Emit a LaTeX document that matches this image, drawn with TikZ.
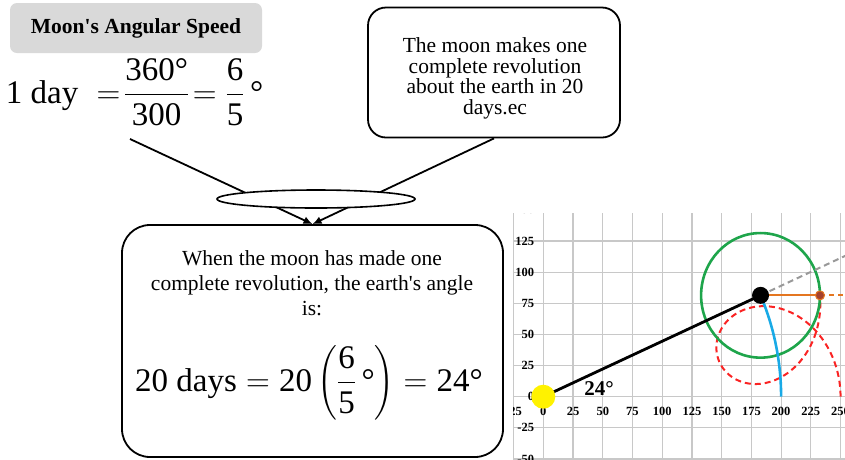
\RequirePackage{fix-cm}
\documentclass[tikz,border=0pt]{standalone}
\usepackage{amsmath}
\usepackage{fontspec}
\setmainfont{Liberation Serif}
\usepackage{tikz}
\usetikzlibrary{positioning,shapes.geometric,arrows.meta}

\definecolor{titlegray}{RGB}{217,217,217}
\definecolor{gridgray}{RGB}{200,200,200}
\definecolor{orbitgreen}{RGB}{30,165,75}
\definecolor{pathred}{RGB}{250,35,35}
\definecolor{arcblue}{RGB}{25,170,230}
\definecolor{rayorange}{RGB}{228,118,32}
\definecolor{moonbrown}{RGB}{165,65,45}

\begin{document}
\begin{tikzpicture}[x=1pt, y=-1pt, line width=1.8pt, >={Latex[length=9pt,width=8pt]},
  titlebox/.style={fill=titlegray, rounded corners=7pt, minimum width=252pt, minimum height=50pt,
    font=\fontsize{21.5}{24}\selectfont\bfseries},
  callout/.style={draw, rounded corners=#1},
  note/.style={align=center, inner sep=0pt, font=\fontsize{21.5}{#1}\selectfont},
  bigmath/.style={inner sep=0pt, font=\fontsize{33}{38}\selectfont},
  merge/.style={draw, fill=white, ellipse, minimum width=198pt, minimum height=18pt, line width=1.6pt},
  gridline/.style={draw=gridgray, line width=1.2pt},
  ticklabel/.style={inner sep=0pt, font=\fontsize{12.5}{14}\selectfont\bfseries},
  anglelabel/.style={inner sep=0pt, font=\fontsize{21}{24}\selectfont\bfseries},
  sun/.style={circle, fill=yellow, minimum size=24pt, inner sep=0pt},
  earthdot/.style={circle, fill=black, minimum size=17pt, inner sep=0pt},
  moondot/.style={circle, fill=moonbrown, draw=rayorange, line width=1pt, minimum size=9pt, inner sep=0pt}]

  \useasboundingbox (0,0) rectangle (845,459);

  % left: speed of the moon
  \node[titlebox] (title) at (136,28) {Moon\textquotesingle s Angular Speed};
  \node[bigmath, anchor=base west] (speed) at (5,103)
    {$\text{1 day}\;=\!\dfrac{\text{360°}}{\text{300}}\!=\dfrac{\text{6}}{\text{5}}\,\text{°}$};

  % callouts
  \node[callout=18pt, minimum width=252pt, minimum height=130pt] (fact) at (494,72.5) {};
  \node[note=20.7] (factnote) at (495,78.5)
    {The moon makes one\\complete revolution\\about the earth in 20\\days.ec};

  \node[callout=28pt, minimum width=381pt, minimum height=232pt] (result) at (312.5,341) {};
  \node[note=25] (resultnote) at (312,283)
    {When the moon has made one\\complete revolution, the earth\textquotesingle s angle\\is:};
  \node[bigmath, anchor=base] (resultmath) at (309,391)
    {$\text{20 days}=\text{20}\left(\dfrac{\text{6}}{\text{5}}\,\text{°}\right)=\text{24°}$};

  \coordinate (speedfoot) at (130,139);
  \draw[->] (speedfoot) -- (result.north);
  \draw[->] (fact.south) -- (result.north);
  \node[merge] (join) at (316,199) {};

  % right: orbit plot
  \begin{scope}
    \clip (513,213) rectangle (845,459);
    \begin{scope}[shift={(543.3,396.7)}, x=1.189pt, y=1.246pt]
      \foreach \gx in {-25,0,...,275}
        \draw[gridline] (\gx,-60) -- (\gx,160);
      \foreach \gy in {-50,-25,...,150}
        \draw[gridline] (-30,\gy) -- (280,\gy);
      \foreach \gy in {-50,-25,...,150}
        \node[ticklabel, anchor=east] (ylab\gy) at (-7,\gy) {\gy};
      \foreach \gx in {-25,0,...,250}
        \node[ticklabel] (xlab\gx) at (\gx,-11.5) {\gx};

      \coordinate (sunpos) at (0,0);
      \coordinate (earthpos) at ({200*cos(24)},{200*sin(24)});
      \coordinate (moonpos) at ({200*cos(24)+50},{200*sin(24)});
      \coordinate (rayend) at ({330*cos(24)},{330*sin(24)});
      \coordinate (moonray) at (285,{200*sin(24)});

      \draw[pathred, line width=2pt, dash pattern=on 6pt off 4pt]
        plot[domain=0:1, samples=150, smooth, variable=\t]
        ({200*cos(24*\t)+50*cos(360*\t)}, {200*sin(24*\t)+50*sin(360*\t)});
      \draw[orbitgreen, line width=2.6pt] (earthpos) circle[radius=50];
      \draw[arcblue, line width=2.6pt]
        plot[domain=0:24, samples=40, variable=\a] ({200*cos(\a)},{200*sin(\a)});
      \draw[gray!80, line width=2pt, dash pattern=on 6pt off 4pt] (earthpos) -- (rayend);
      \draw[rayorange, line width=2pt, dash pattern=on 5pt off 4pt] (moonpos) -- (moonray);
      \draw[rayorange, line width=2.2pt] (earthpos) -- (moonpos);
      \draw[line width=2.8pt] (sunpos) -- (earthpos);

      \node[sun] (sun) at (sunpos) {};
      \node[earthdot] (earth) at (earthpos) {};
      \node[moondot] (moon) at (moonpos) {};
      \node[anglelabel] (anglelab) at (47,6.7) {24°};
    \end{scope}
  \end{scope}
\end{tikzpicture}
\end{document}
